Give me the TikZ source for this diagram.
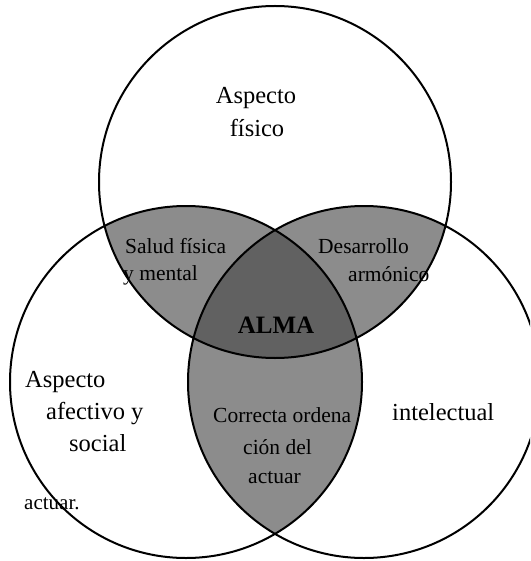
\documentclass[tikz,border=0pt]{standalone}
\usepackage{fontspec}
\setmainfont{Liberation Serif}
\begin{document}
\begin{tikzpicture}[x=1pt,y=-1pt,
  ring/.style={draw=black,line width=2pt},
  pairfill/.style={fill=black!45},
  corefill/.style={fill=black!62},
  bigtxt/.style={inner sep=0pt,font=\fontsize{24.5}{30}\selectfont},
  intxt/.style={inner sep=0pt,font=\fontsize{21.5}{26}\selectfont},
  smalltxt/.style={inner sep=0pt,font=\fontsize{21}{25}\selectfont},
  coretxt/.style={inner sep=0pt,font=\bfseries\fontsize{25}{30}\selectfont}]
\useasboundingbox (0,0) rectangle (530,561);
\fill[white] (0,0) rectangle (530,561);
\clip (0,0) rectangle (530,561);
\coordinate (T) at (275,182);
\coordinate (L) at (186,382);
\coordinate (R) at (364,382);
\def\rad{176}
% pairwise intersections
\begin{scope}
  \clip (T) circle (\rad);
  \fill[pairfill] (L) circle (\rad);
  \fill[pairfill] (R) circle (\rad);
\end{scope}
\begin{scope}
  \clip (L) circle (\rad);
  \fill[pairfill] (R) circle (\rad);
\end{scope}
% triple intersection
\begin{scope}
  \clip (T) circle (\rad);
  \clip (L) circle (\rad);
  \fill[corefill] (R) circle (\rad);
\end{scope}
% circles
\draw[ring] (T) circle (\rad);
\draw[ring] (L) circle (\rad);
\draw[ring] (R) circle (\rad);
% texts
\node[bigtxt,anchor=base] (t1) at (256,104) {Aspecto};
\node[bigtxt,anchor=base] (t2) at (257,137) {físico};
\node[intxt,anchor=base west] (s1) at (125,253) {Salud física};
\node[intxt,anchor=base west] (s2) at (123,280) {y mental};
\node[intxt,anchor=base west] (d1) at (318,253) {Desarrollo};
\node[intxt,anchor=base west] (d2) at (348,281) {armónico};
\node[coretxt,anchor=base] (al) at (276,333) {ALMA};
\node[bigtxt,anchor=base west] (l1) at (25,387) {Aspecto};
\node[bigtxt,anchor=base west] (l2) at (46,419) {afectivo y};
\node[bigtxt,anchor=base west] (l3) at (69,451) {social};
\node[smalltxt,anchor=base west] (l4) at (24,509) {actuar.};
\node[intxt,anchor=base west] (c1) at (213,422) {Correcta ordena};
\node[intxt,anchor=base west] (c2) at (243,454) {ción del};
\node[intxt,anchor=base west] (c3) at (248,483) {actuar};
\node[bigtxt,anchor=base west] (r1) at (392,420) {intelectual};
\end{tikzpicture}
\end{document}
